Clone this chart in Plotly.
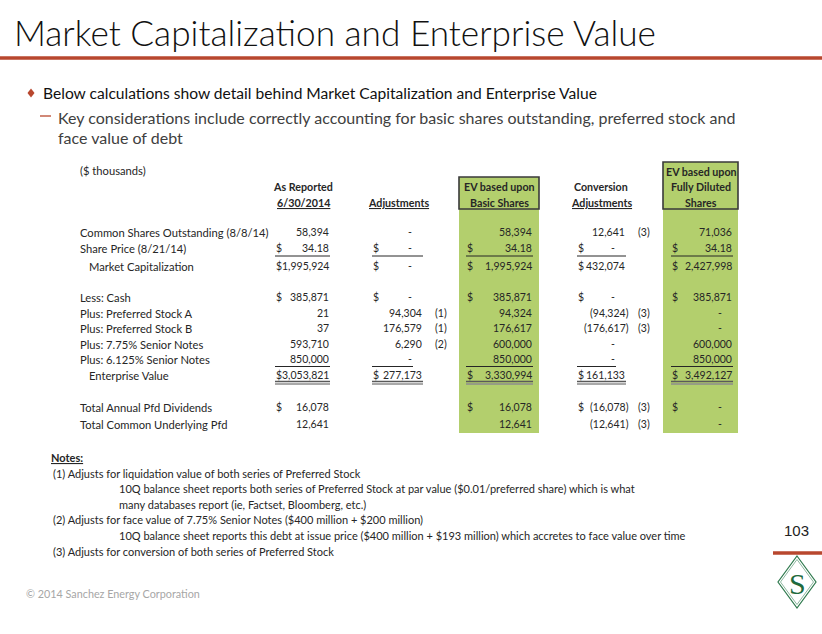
import plotly.graph_objects as go

# ---------------- data ----------------
title_text = "Market Capitalization and Enterprise Value"
bullet_text = "Below calculations show detail behind Market Capitalization and Enterprise Value"
sub_lines = ["Key considerations include correctly accounting for basic shares outstanding, preferred stock and",
             "face value of debt"]
units_label = "($ thousands)"

row_labels = ["Common Shares Outstanding (8/8/14)", "Share Price (8/21/14)", "Market Capitalization",
              "Less: Cash", "Plus: Preferred Stock A", "Plus: Preferred Stock B",
              "Plus: 7.75% Senior Notes", "Plus: 6.125% Senior Notes", "Enterprise Value",
              "Total Annual Pfd Dividends", "Total Common Underlying Pfd"]
row_indent = [False, False, True, False, False, False, False, False, True, False, False]

col_headers = [["", "As Reported", "6/30/2014"],
               ["", "", "Adjustments"],
               ["", "EV based upon", "Basic Shares"],
               ["", "Conversion", "Adjustments"],
               ["EV based upon", "Fully Diluted", "Shares"]]

as_reported = [58394, 34.18, 1995924, 385871, 21, 37, 593710, 850000, 3053821, 16078, 12641]
adjustments = [0, 0, 0, 0, 94304, 176579, 6290, 0, 277173, None, None]
ev_basic = [58394, 34.18, 1995924, 385871, 94324, 176617, 600000, 850000, 3330994, 16078, 12641]
conversion_adj = [12641, 0, 432074, 0, -94324, -176617, 0, 0, 161133, -16078, -12641]
ev_diluted = [71036, 34.18, 2427998, 385871, 0, 0, 600000, 850000, 3492127, 0, 0]
columns = [as_reported, adjustments, ev_basic, conversion_adj, ev_diluted]

dollar_rows = [1, 2, 3, 8, 9]
adj_notes = [None, None, None, None, "(1)", "(1)", "(2)", None, None, None, None]
conv_notes = ["(3)", None, None, None, "(3)", "(3)", None, None, None, "(3)", "(3)"]
col_notes = [None, adj_notes, None, conv_notes, None]
highlight_cols = [2, 4]

notes_title = "Notes:"
notes_lines = [("(1) Adjusts for liquidation value of both series of Preferred Stock", 0),
               ("10Q balance sheet reports both series of Preferred Stock at par value ($0.01/preferred share) which is what", 1),
               ("many databases report (ie, Factset, Bloomberg, etc.)", 1),
               ("(2) Adjusts for face value of 7.75% Senior Notes ($400 million + $200 million)", 0),
               ("10Q balance sheet reports this debt at issue price ($400 million + $193 million) which accretes to face value over time", 1),
               ("(3) Adjusts for conversion of both series of Preferred Stock", 0)]
footer_text = "© 2014 Sanchez Energy Corporation"
page_number = "103"

# ---------------- layout constants ----------------
W, H = 822, 634
RED = "#B8472E"
GREEN = "#B3CF6D"
DARK = "#262626"
FONT = "Lato"
TS = 11.2     # labels
NS = 10.5     # numbers
HS = 10.7     # headers

row_y = [232, 248, 266, 297, 313, 328, 344, 359, 375, 407, 424]
header_y = [171, 186, 202]
col_dollar_x = [275, 372, 466, 577, 671]
col_right_x = [330, 423, 533, 626, 733]
col_center_x = [303, 398, 499, 601, 701]
note_x = [None, 441, None, 644, None]
box_x = {2: (459, 539, 177), 4: (663, 738, 162)}
box_bottom, header_bottom = 433, 209

fig = go.Figure()
ann = []
shapes = []


def txt(x, y, s, size=TS, anchor="left", color=DARK, weight="normal", family=FONT, under=False):
    f = dict(family=family, size=size, color=color, weight=weight)
    if under:
        f["lineposition"] = "under"
    ann.append(dict(x=x, y=y, xref="x", yref="y", text=s, showarrow=False, xanchor=anchor,
                    yanchor="middle", font=f, borderpad=0))


def line(x0, y0, x1, y1, color=DARK, width=1):
    shapes.append(dict(type="line", xref="x", yref="y", x0=x0, y0=y0, x1=x1, y1=y1,
                       line=dict(color=color, width=width), layer="above"))


# title + rule
txt(13, 32, title_text, size=35.2, color="#111111", weight=300)
line(0, 58, W, 58, color=RED, width=3.5)

# bullets
shapes.append(dict(type="path", xref="x", yref="y", path="M 31 88.5 L 34.5 93 L 31 97.5 L 27.5 93 Z",
                   fillcolor=RED, line=dict(width=0)))
txt(42, 93, bullet_text, size=15.6, color="#111111")
line(40, 116, 51, 116, color=RED, width=1.3)
txt(57, 117, sub_lines[0], size=16.0, color="#404040")
txt(57, 137, sub_lines[1], size=16.0, color="#404040")

# green highlight boxes
for c in highlight_cols:
    x0, x1, top = box_x[c]
    shapes.append(dict(type="rect", xref="x", yref="y", x0=x0, x1=x1, y0=top, y1=box_bottom,
                       fillcolor=GREEN, line=dict(width=0), layer="below"))
    shapes.append(dict(type="rect", xref="x", yref="y", x0=x0, x1=x1, y0=top, y1=header_bottom,
                       fillcolor="rgba(0,0,0,0)", line=dict(width=1.6, color="#3A3A3A"), layer="above"))

txt(79, 170, units_label)

# headers
for c, hdr in enumerate(col_headers):
    for r, h in enumerate(hdr):
        if h:
            u = (r == 2) and c not in highlight_cols
            txt(col_center_x[c], header_y[r], "<b>" + h + "</b>", size=HS, anchor="center", under=u)

# row labels
for i, lab in enumerate(row_labels):
    txt(88 if row_indent[i] else 79, row_y[i], lab)


def fmt(v):
    if isinstance(v, float) and v != int(v):
        return f"{abs(v):,.2f}"
    return f"{abs(int(v)):,}"


for c, vals in enumerate(columns):
    R = col_right_x[c]
    for i, v in enumerate(vals):
        if v is None:
            continue
        y = row_y[i]
        if i in dollar_rows:
            txt(col_dollar_x[c], y, "$", size=NS)
        if v == 0:
            txt(R - 13, y, "-", size=NS, anchor="center")
        elif v < 0:
            txt(R + 3.5, y, "(" + fmt(v) + ")", size=NS, anchor="right")
        else:
            txt(R, y, fmt(v), size=NS, anchor="right")
        if col_notes[c] and col_notes[c][i]:
            txt(note_x[c], y, col_notes[c][i], size=NS, anchor="center")
    # single underlines: share price row and last debt row
    x0 = col_dollar_x[c]
    line(x0, row_y[1] + 8, R, row_y[1] + 8, width=1)
    end7 = R - 10 if vals[7] == 0 else R
    line(x0, row_y[7] + 7.5, end7, row_y[7] + 7.5, width=1)
    # double underline under Enterprise Value
    line(x0, row_y[8] + 6.5, R, row_y[8] + 6.5, color="#5A5A5A", width=1.3)
    line(x0, row_y[8] + 9, R, row_y[8] + 9, color="#8C8C8C", width=1.6)

# notes
txt(50, 457, "<b>" + notes_title + "</b>", size=11, under=True)
ny = 473
for s, lvl in notes_lines:
    txt(118 if lvl else 52, ny, s, size=11)
    ny += 15.6

# footer
txt(25, 593, footer_text, size=10.8, color="#A6A6A6")
txt(796, 530, page_number, size=15, anchor="center", color="#222222", family="Liberation Sans")
line(773, 553, W, 553, color=RED, width=3.5)
shapes.append(dict(type="path", xref="x", yref="y", path="M 797 556 L 816 582 L 797 608 L 778 582 Z",
                   fillcolor="white", line=dict(color="#2F7A4E", width=1.2)))
shapes.append(dict(type="path", xref="x", yref="y", path="M 797 559.5 L 813.5 582 L 797 604.5 L 780.5 582 Z",
                   fillcolor="white", line=dict(color="#6FA487", width=0.8)))
txt(797.5, 583, "S", size=30, anchor="center", color="#1F6B3E", family="Liberation Serif")

fig.add_trace(go.Scatter(x=[0, W], y=[0, H], mode="markers", marker=dict(opacity=0), hoverinfo="skip",
                         showlegend=False))
fig.update_layout(
    width=W, height=H, margin=dict(l=0, r=0, t=0, b=0),
    paper_bgcolor="white", plot_bgcolor="white",
    xaxis=dict(range=[0, W], visible=False, fixedrange=True),
    yaxis=dict(range=[H, 0], visible=False, fixedrange=True),
    annotations=ann, shapes=shapes, showlegend=False,
)
fig.write_html("out.html", config={"displayModeBar": False},
               post_script="document.body.style.margin='0';document.body.style.overflow='hidden';")
